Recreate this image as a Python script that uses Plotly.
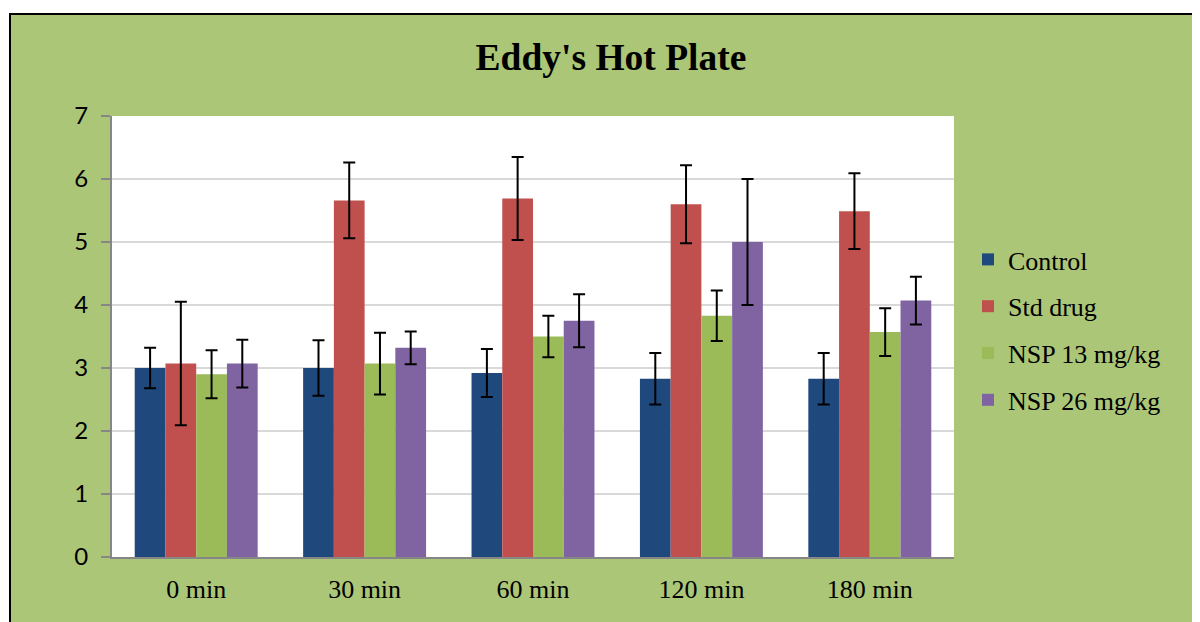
import plotly.graph_objects as go

categories = ["0 min", "30 min", "60 min", "120 min", "180 min"]
series_names = ["Control", "Std drug", "NSP 13 mg/kg", "NSP 26 mg/kg"]
control = [3.00, 3.00, 2.92, 2.83, 2.83]
control_err = [0.32, 0.44, 0.38, 0.41, 0.41]
std_drug = [3.07, 5.66, 5.69, 5.60, 5.49]
std_drug_err = [0.98, 0.60, 0.66, 0.62, 0.60]
nsp13 = [2.90, 3.07, 3.50, 3.83, 3.57]
nsp13_err = [0.38, 0.49, 0.33, 0.40, 0.38]
nsp26 = [3.07, 3.32, 3.75, 5.00, 4.07]
nsp26_err = [0.38, 0.26, 0.42, 1.00, 0.38]
colors = ["#1F497D", "#C0504D", "#9BBB59", "#8064A2"]

values = [control, std_drug, nsp13, nsp26]
errors = [control_err, std_drug_err, nsp13_err, nsp26_err]

OFF = 8  # default page margin of the html body
W, H = 1200 - OFF, 622 - OFF
L, R, T, B = 112 - OFF, 954 - OFF, 116 - OFF, 557 - OFF
pw, ph = R - L, B - T

fig = go.Figure()
for name, v, e, c in zip(series_names, values, errors, colors):
    fig.add_trace(go.Bar(
        x=categories, y=v, name=name, legendgroup=name,
        marker=dict(color=c, line=dict(width=0)),
        error_y=dict(type="data", array=e, visible=True, color="black",
                     thickness=2, width=6),
    ))

def px_x(x):
    return (x - OFF - L) / pw

def px_y(y):
    return (B - (y - OFF)) / ph

shapes = [
    dict(type="rect", xref="paper", yref="paper", layer="below",
         x0=px_x(10), x1=px_x(1230), y0=px_y(660), y1=px_y(14),
         fillcolor="#ACC677", line=dict(color="black", width=2)),
    dict(type="rect", xref="paper", yref="paper", layer="below",
         x0=0, x1=1, y0=0, y1=1, fillcolor="white", line=dict(width=0)),
]

fig.update_layout(
    width=W, height=H,
    margin=dict(l=L, r=W - R, t=T, b=H - B),
    paper_bgcolor="white", plot_bgcolor="white",
    shapes=shapes,
    barmode="group", bargap=0.27, bargroupgap=0,
    title=dict(text="<b>Eddy's Hot Plate</b>", x=px_x(611), xref="paper",
               xanchor="center", y=1 - (57 - OFF) / H, yanchor="middle",
               font=dict(family="Liberation Serif", size=37.5, color="black")),
    legend=dict(x=px_x(968), xanchor="left", y=px_y(236), yanchor="top",
                font=dict(family="Liberation Serif", size=26, color="black"),
                bgcolor="rgba(0,0,0,0)", tracegroupgap=10, traceorder="grouped"),
    xaxis=dict(showline=True, linecolor="#868686", linewidth=2,
               ticks="", showgrid=False, fixedrange=True, ticklabelstandoff=8,
               tickfont=dict(family="Liberation Serif", size=26, color="black")),
    yaxis=dict(range=[0, 7], dtick=1, showline=True, linecolor="#868686",
               linewidth=2, ticks="outside", ticklen=9, tickcolor="#868686",
               tickwidth=2, showgrid=True, gridcolor="#D9D9D9", gridwidth=2,
               zeroline=False, ticklabelstandoff=8,
               tickfont=dict(family="Lato", size=24, color="black")),
    showlegend=True,
)

fig.write_html("out.html")
